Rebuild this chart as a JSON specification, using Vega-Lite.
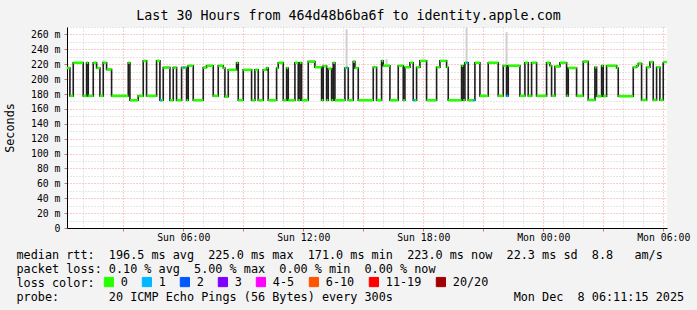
{
  "$schema": "https://vega.github.io/schema/vega-lite/v6.json",
  "width": 600,
  "height": 201,
  "autosize": {"type": "none"},
  "padding": {"left": 67, "top": 27, "right": 30, "bottom": 82},
  "background": "#f3f3f3",
  "config": {"view": {"fill": "#ffffff", "stroke": null}, "font": "DejaVu Sans Mono"},
  "title": {"text": "Last 30 Hours from 464d48b6ba6f to identity.apple.com", "font": "DejaVu Sans Mono", "fontSize": 13.3, "fontWeight": "normal", "color": "#000000", "anchor": "middle", "dx": -18.5, "dy": 15, "offset": 4, "baseline": "alphabetic"},
  "datasets": {
    "median": [
      {"start": "2025-12-07T00:11Z", "end": "2025-12-07T00:20Z", "rtt": 215, "loss": "0"},
      {"start": "2025-12-07T00:20Z", "end": "2025-12-07T00:30Z", "rtt": 177.5, "loss": "0"},
      {"start": "2025-12-07T00:30Z", "end": "2025-12-07T01:00Z", "rtt": 222, "loss": "0"},
      {"start": "2025-12-07T01:00Z", "end": "2025-12-07T01:10Z", "rtt": 177.5, "loss": "0"},
      {"start": "2025-12-07T01:10Z", "end": "2025-12-07T01:15Z", "rtt": 222, "loss": "0"},
      {"start": "2025-12-07T01:15Z", "end": "2025-12-07T01:30Z", "rtt": 177.5, "loss": "0"},
      {"start": "2025-12-07T01:30Z", "end": "2025-12-07T01:40Z", "rtt": 222, "loss": "0"},
      {"start": "2025-12-07T01:40Z", "end": "2025-12-07T01:50Z", "rtt": 215, "loss": "0"},
      {"start": "2025-12-07T01:50Z", "end": "2025-12-07T02:00Z", "rtt": 177.5, "loss": "0"},
      {"start": "2025-12-07T02:00Z", "end": "2025-12-07T02:10Z", "rtt": 222, "loss": "0"},
      {"start": "2025-12-07T02:10Z", "end": "2025-12-07T02:25Z", "rtt": 213, "loss": "0"},
      {"start": "2025-12-07T02:25Z", "end": "2025-12-07T03:15Z", "rtt": 177.5, "loss": "0"},
      {"start": "2025-12-07T03:15Z", "end": "2025-12-07T03:20Z", "rtt": 222, "loss": "0"},
      {"start": "2025-12-07T03:20Z", "end": "2025-12-07T03:45Z", "rtt": 171.6, "loss": "0"},
      {"start": "2025-12-07T03:45Z", "end": "2025-12-07T04:00Z", "rtt": 177.5, "loss": "0"},
      {"start": "2025-12-07T04:00Z", "end": "2025-12-07T04:10Z", "rtt": 224.5, "loss": "0"},
      {"start": "2025-12-07T04:10Z", "end": "2025-12-07T04:40Z", "rtt": 177.5, "loss": "0"},
      {"start": "2025-12-07T04:40Z", "end": "2025-12-07T04:50Z", "rtt": 224.5, "loss": "0"},
      {"start": "2025-12-07T04:50Z", "end": "2025-12-07T04:55Z", "rtt": 171.6, "loss": "1"},
      {"start": "2025-12-07T04:55Z", "end": "2025-12-07T05:00Z", "rtt": 171.6, "loss": "0"},
      {"start": "2025-12-07T05:00Z", "end": "2025-12-07T05:20Z", "rtt": 215.5, "loss": "0"},
      {"start": "2025-12-07T05:20Z", "end": "2025-12-07T05:30Z", "rtt": 171.6, "loss": "0"},
      {"start": "2025-12-07T05:30Z", "end": "2025-12-07T05:40Z", "rtt": 215.5, "loss": "0"},
      {"start": "2025-12-07T05:40Z", "end": "2025-12-07T05:55Z", "rtt": 171.6, "loss": "0"},
      {"start": "2025-12-07T05:55Z", "end": "2025-12-07T06:00Z", "rtt": 215.5, "loss": "0"},
      {"start": "2025-12-07T06:00Z", "end": "2025-12-07T06:05Z", "rtt": 215.5, "loss": "1"},
      {"start": "2025-12-07T06:05Z", "end": "2025-12-07T06:10Z", "rtt": 215.5, "loss": "0"},
      {"start": "2025-12-07T06:10Z", "end": "2025-12-07T06:15Z", "rtt": 171.6, "loss": "0"},
      {"start": "2025-12-07T06:15Z", "end": "2025-12-07T06:30Z", "rtt": 218, "loss": "0"},
      {"start": "2025-12-07T06:30Z", "end": "2025-12-07T07:00Z", "rtt": 171.6, "loss": "0"},
      {"start": "2025-12-07T07:00Z", "end": "2025-12-07T07:10Z", "rtt": 215.5, "loss": "0"},
      {"start": "2025-12-07T07:10Z", "end": "2025-12-07T07:30Z", "rtt": 218, "loss": "0"},
      {"start": "2025-12-07T07:30Z", "end": "2025-12-07T07:45Z", "rtt": 177.5, "loss": "0"},
      {"start": "2025-12-07T07:45Z", "end": "2025-12-07T08:00Z", "rtt": 218, "loss": "0"},
      {"start": "2025-12-07T08:00Z", "end": "2025-12-07T08:05Z", "rtt": 215, "loss": "0"},
      {"start": "2025-12-07T08:05Z", "end": "2025-12-07T08:15Z", "rtt": 176.5, "loss": "0"},
      {"start": "2025-12-07T08:15Z", "end": "2025-12-07T08:40Z", "rtt": 212.5, "loss": "0"},
      {"start": "2025-12-07T08:40Z", "end": "2025-12-07T08:45Z", "rtt": 222, "loss": "0"},
      {"start": "2025-12-07T08:45Z", "end": "2025-12-07T09:00Z", "rtt": 171.6, "loss": "0"},
      {"start": "2025-12-07T09:00Z", "end": "2025-12-07T09:25Z", "rtt": 212.5, "loss": "0"},
      {"start": "2025-12-07T09:25Z", "end": "2025-12-07T09:35Z", "rtt": 171.6, "loss": "0"},
      {"start": "2025-12-07T09:35Z", "end": "2025-12-07T09:45Z", "rtt": 212.5, "loss": "0"},
      {"start": "2025-12-07T09:45Z", "end": "2025-12-07T10:00Z", "rtt": 171.6, "loss": "0"},
      {"start": "2025-12-07T10:00Z", "end": "2025-12-07T10:10Z", "rtt": 212.5, "loss": "0"},
      {"start": "2025-12-07T10:10Z", "end": "2025-12-07T10:15Z", "rtt": 215, "loss": "0"},
      {"start": "2025-12-07T10:15Z", "end": "2025-12-07T10:40Z", "rtt": 171.6, "loss": "0"},
      {"start": "2025-12-07T10:40Z", "end": "2025-12-07T10:45Z", "rtt": 215, "loss": "0"},
      {"start": "2025-12-07T10:45Z", "end": "2025-12-07T11:00Z", "rtt": 222, "loss": "0"},
      {"start": "2025-12-07T11:00Z", "end": "2025-12-07T11:10Z", "rtt": 171.6, "loss": "0"},
      {"start": "2025-12-07T11:10Z", "end": "2025-12-07T11:15Z", "rtt": 215, "loss": "0"},
      {"start": "2025-12-07T11:15Z", "end": "2025-12-07T11:35Z", "rtt": 171.6, "loss": "0"},
      {"start": "2025-12-07T11:35Z", "end": "2025-12-07T11:45Z", "rtt": 222, "loss": "0"},
      {"start": "2025-12-07T11:45Z", "end": "2025-12-07T11:50Z", "rtt": 171.6, "loss": "0"},
      {"start": "2025-12-07T11:50Z", "end": "2025-12-07T11:55Z", "rtt": 222, "loss": "0"},
      {"start": "2025-12-07T11:55Z", "end": "2025-12-07T12:15Z", "rtt": 171.6, "loss": "0"},
      {"start": "2025-12-07T12:15Z", "end": "2025-12-07T12:35Z", "rtt": 223.5, "loss": "0"},
      {"start": "2025-12-07T12:35Z", "end": "2025-12-07T12:55Z", "rtt": 216, "loss": "0"},
      {"start": "2025-12-07T12:55Z", "end": "2025-12-07T13:00Z", "rtt": 171.6, "loss": "0"},
      {"start": "2025-12-07T13:00Z", "end": "2025-12-07T13:10Z", "rtt": 217.5, "loss": "0"},
      {"start": "2025-12-07T13:10Z", "end": "2025-12-07T13:15Z", "rtt": 171.6, "loss": "0"},
      {"start": "2025-12-07T13:15Z", "end": "2025-12-07T13:25Z", "rtt": 214, "loss": "0"},
      {"start": "2025-12-07T13:25Z", "end": "2025-12-07T13:30Z", "rtt": 171.6, "loss": "0"},
      {"start": "2025-12-07T13:30Z", "end": "2025-12-07T13:35Z", "rtt": 222, "loss": "0"},
      {"start": "2025-12-07T13:35Z", "end": "2025-12-07T14:05Z", "rtt": 171.6, "loss": "0"},
      {"start": "2025-12-07T14:05Z", "end": "2025-12-07T14:10Z", "rtt": 215, "loss": "0"},
      {"start": "2025-12-07T14:10Z", "end": "2025-12-07T14:15Z", "rtt": 215, "loss": "1"},
      {"start": "2025-12-07T14:15Z", "end": "2025-12-07T14:30Z", "rtt": 171.6, "loss": "0"},
      {"start": "2025-12-07T14:30Z", "end": "2025-12-07T14:35Z", "rtt": 223.5, "loss": "0"},
      {"start": "2025-12-07T14:35Z", "end": "2025-12-07T14:45Z", "rtt": 215, "loss": "0"},
      {"start": "2025-12-07T14:45Z", "end": "2025-12-07T15:30Z", "rtt": 171.6, "loss": "0"},
      {"start": "2025-12-07T15:30Z", "end": "2025-12-07T15:40Z", "rtt": 216, "loss": "0"},
      {"start": "2025-12-07T15:40Z", "end": "2025-12-07T15:55Z", "rtt": 171.6, "loss": "0"},
      {"start": "2025-12-07T15:55Z", "end": "2025-12-07T16:00Z", "rtt": 224.5, "loss": "0"},
      {"start": "2025-12-07T16:00Z", "end": "2025-12-07T16:20Z", "rtt": 218, "loss": "0"},
      {"start": "2025-12-07T16:20Z", "end": "2025-12-07T16:45Z", "rtt": 171.6, "loss": "0"},
      {"start": "2025-12-07T16:45Z", "end": "2025-12-07T17:00Z", "rtt": 218, "loss": "0"},
      {"start": "2025-12-07T17:00Z", "end": "2025-12-07T17:05Z", "rtt": 171.6, "loss": "0"},
      {"start": "2025-12-07T17:05Z", "end": "2025-12-07T17:20Z", "rtt": 216, "loss": "0"},
      {"start": "2025-12-07T17:20Z", "end": "2025-12-07T17:30Z", "rtt": 222, "loss": "0"},
      {"start": "2025-12-07T17:30Z", "end": "2025-12-07T17:35Z", "rtt": 171.6, "loss": "1"},
      {"start": "2025-12-07T17:35Z", "end": "2025-12-07T17:40Z", "rtt": 171.6, "loss": "0"},
      {"start": "2025-12-07T17:40Z", "end": "2025-12-07T17:50Z", "rtt": 216, "loss": "0"},
      {"start": "2025-12-07T17:50Z", "end": "2025-12-07T18:10Z", "rtt": 224.5, "loss": "0"},
      {"start": "2025-12-07T18:10Z", "end": "2025-12-07T18:40Z", "rtt": 171.6, "loss": "0"},
      {"start": "2025-12-07T18:40Z", "end": "2025-12-07T18:50Z", "rtt": 216, "loss": "0"},
      {"start": "2025-12-07T18:50Z", "end": "2025-12-07T19:10Z", "rtt": 224.5, "loss": "0"},
      {"start": "2025-12-07T19:10Z", "end": "2025-12-07T19:15Z", "rtt": 216, "loss": "0"},
      {"start": "2025-12-07T19:15Z", "end": "2025-12-07T19:55Z", "rtt": 171.6, "loss": "0"},
      {"start": "2025-12-07T19:55Z", "end": "2025-12-07T20:00Z", "rtt": 218, "loss": "0"},
      {"start": "2025-12-07T20:00Z", "end": "2025-12-07T20:05Z", "rtt": 171.6, "loss": "0"},
      {"start": "2025-12-07T20:05Z", "end": "2025-12-07T20:10Z", "rtt": 222, "loss": "0"},
      {"start": "2025-12-07T20:10Z", "end": "2025-12-07T20:15Z", "rtt": 222, "loss": "1"},
      {"start": "2025-12-07T20:15Z", "end": "2025-12-07T20:30Z", "rtt": 171.6, "loss": "0"},
      {"start": "2025-12-07T20:30Z", "end": "2025-12-07T20:35Z", "rtt": 171.6, "loss": "1"},
      {"start": "2025-12-07T20:35Z", "end": "2025-12-07T20:50Z", "rtt": 222, "loss": "0"},
      {"start": "2025-12-07T20:50Z", "end": "2025-12-07T21:15Z", "rtt": 177.5, "loss": "0"},
      {"start": "2025-12-07T21:15Z", "end": "2025-12-07T21:45Z", "rtt": 222, "loss": "0"},
      {"start": "2025-12-07T21:45Z", "end": "2025-12-07T22:00Z", "rtt": 177.5, "loss": "0"},
      {"start": "2025-12-07T22:00Z", "end": "2025-12-07T22:10Z", "rtt": 218, "loss": "0"},
      {"start": "2025-12-07T22:10Z", "end": "2025-12-07T22:15Z", "rtt": 177.5, "loss": "1"},
      {"start": "2025-12-07T22:15Z", "end": "2025-12-07T22:50Z", "rtt": 218, "loss": "0"},
      {"start": "2025-12-07T22:50Z", "end": "2025-12-07T23:05Z", "rtt": 177.5, "loss": "0"},
      {"start": "2025-12-07T23:05Z", "end": "2025-12-07T23:15Z", "rtt": 222, "loss": "0"},
      {"start": "2025-12-07T23:15Z", "end": "2025-12-07T23:25Z", "rtt": 177.5, "loss": "0"},
      {"start": "2025-12-07T23:25Z", "end": "2025-12-07T23:40Z", "rtt": 222, "loss": "0"},
      {"start": "2025-12-07T23:40Z", "end": "2025-12-08T00:10Z", "rtt": 177.5, "loss": "0"},
      {"start": "2025-12-08T00:10Z", "end": "2025-12-08T00:20Z", "rtt": 222, "loss": "0"},
      {"start": "2025-12-08T00:20Z", "end": "2025-12-08T00:25Z", "rtt": 218, "loss": "0"},
      {"start": "2025-12-08T00:25Z", "end": "2025-12-08T00:35Z", "rtt": 177.5, "loss": "0"},
      {"start": "2025-12-08T00:35Z", "end": "2025-12-08T00:50Z", "rtt": 217, "loss": "0"},
      {"start": "2025-12-08T00:50Z", "end": "2025-12-08T01:10Z", "rtt": 222, "loss": "0"},
      {"start": "2025-12-08T01:10Z", "end": "2025-12-08T01:15Z", "rtt": 177.5, "loss": "0"},
      {"start": "2025-12-08T01:15Z", "end": "2025-12-08T01:40Z", "rtt": 215, "loss": "0"},
      {"start": "2025-12-08T01:40Z", "end": "2025-12-08T02:00Z", "rtt": 177.5, "loss": "0"},
      {"start": "2025-12-08T02:00Z", "end": "2025-12-08T02:15Z", "rtt": 223.5, "loss": "0"},
      {"start": "2025-12-08T02:15Z", "end": "2025-12-08T02:35Z", "rtt": 172, "loss": "0"},
      {"start": "2025-12-08T02:35Z", "end": "2025-12-08T02:40Z", "rtt": 216, "loss": "0"},
      {"start": "2025-12-08T02:40Z", "end": "2025-12-08T02:55Z", "rtt": 177, "loss": "0"},
      {"start": "2025-12-08T02:55Z", "end": "2025-12-08T03:00Z", "rtt": 218, "loss": "0"},
      {"start": "2025-12-08T03:00Z", "end": "2025-12-08T03:10Z", "rtt": 177, "loss": "0"},
      {"start": "2025-12-08T03:10Z", "end": "2025-12-08T03:40Z", "rtt": 218, "loss": "0"},
      {"start": "2025-12-08T03:40Z", "end": "2025-12-08T03:45Z", "rtt": 215, "loss": "0"},
      {"start": "2025-12-08T03:45Z", "end": "2025-12-08T04:30Z", "rtt": 177, "loss": "0"},
      {"start": "2025-12-08T04:30Z", "end": "2025-12-08T04:40Z", "rtt": 216, "loss": "0"},
      {"start": "2025-12-08T04:40Z", "end": "2025-12-08T04:45Z", "rtt": 218, "loss": "0"},
      {"start": "2025-12-08T04:45Z", "end": "2025-12-08T04:55Z", "rtt": 221, "loss": "0"},
      {"start": "2025-12-08T04:55Z", "end": "2025-12-08T05:10Z", "rtt": 172, "loss": "0"},
      {"start": "2025-12-08T05:10Z", "end": "2025-12-08T05:20Z", "rtt": 216, "loss": "0"},
      {"start": "2025-12-08T05:20Z", "end": "2025-12-08T05:30Z", "rtt": 223, "loss": "0"},
      {"start": "2025-12-08T05:30Z", "end": "2025-12-08T05:40Z", "rtt": 172, "loss": "0"},
      {"start": "2025-12-08T05:40Z", "end": "2025-12-08T05:50Z", "rtt": 216, "loss": "0"},
      {"start": "2025-12-08T05:50Z", "end": "2025-12-08T06:00Z", "rtt": 172, "loss": "0"},
      {"start": "2025-12-08T06:00Z", "end": "2025-12-08T06:11Z", "rtt": 223, "loss": "0"}
    ],
    "smoke": [
      {"start": "2025-12-07T02:00Z", "rtt": 218, "top": 225},
      {"start": "2025-12-07T04:50Z", "rtt": 172, "top": 225},
      {"start": "2025-12-07T14:10Z", "rtt": 215, "top": 267},
      {"start": "2025-12-07T16:10Z", "rtt": 218, "top": 227},
      {"start": "2025-12-07T20:10Z", "rtt": 222, "top": 269},
      {"start": "2025-12-07T22:10Z", "rtt": 177, "top": 263}
    ]
  },
  "encoding": {
    "x": {
      "field": "start", "type": "temporal",
      "scale": {"type": "utc", "domain": [{"year": 2025, "month": 12, "date": 7, "hours": 0, "minutes": 11, "seconds": 15, "utc": true}, {"year": 2025, "month": 12, "date": 8, "hours": 6, "minutes": 11, "seconds": 15, "utc": true}]},
      "axis": {
        "title": [
          "median rtt:\u00a0\u00a0196.5 ms avg\u00a0\u00a0225.0 ms max\u00a0\u00a0171.0 ms min\u00a0\u00a0223.0 ms now\u00a0\u00a022.3 ms sd\u00a0\u00a08.8\u00a0\u00a0\u00a0am/s",
          "packet loss: 0.10 % avg\u00a0\u00a05.00 % max\u00a0\u00a00.00 % min\u00a0\u00a00.00 % now",
          "loss color:",
          "probe:\u00a0\u00a0\u00a0\u00a0\u00a0\u00a0\u00a020 ICMP Echo Pings (56 Bytes) every 300s\u00a0\u00a0\u00a0\u00a0\u00a0\u00a0\u00a0\u00a0\u00a0\u00a0\u00a0\u00a0\u00a0\u00a0\u00a0\u00a0\u00a0Mon Dec\u00a0\u00a08 06:11:15 2025"
        ],
        "titleFont": "DejaVu Sans Mono", "titleFontSize": 11.8, "titleFontWeight": "normal", "titleColor": "#000000",
        "titleAlign": "left", "titleAnchor": "start", "titleBaseline": "alphabetic", "titleLineHeight": 14,
        "titleX": -51, "titleY": 30,
        "tickCount": 30,
        "labelExpr": "utchours(datum.value) % 6 === 0 ? utcFormat(datum.value, '%a %H:%M') : ''",
        "labelFont": "DejaVu Sans Mono", "labelFontSize": 9.8, "labelColor": "#000000", "labelPadding": 1,
        "labelOverlap": false, "labelFlush": false, "labelBound": false,
        "tickSize": 3, "tickColor": "#d07070",
        "tickOpacity": {"condition": {"test": "utchours(datum.value) % 3 === 0", "value": 1}, "value": 0},
        "domainColor": "#000000", "domainWidth": 1,
        "grid": true, "gridDash": [1, 2], "gridWidth": 1, "gridOpacity": 1,
        "gridColor": {"condition": {"test": "utchours(datum.value) % 3 === 0", "value": "#f09a9a"}, "value": "#cccccc"}
      }
    },
    "y": {
      "field": "rtt", "type": "quantitative",
      "scale": {"domain": [0, 270], "nice": false, "zero": true},
      "axis": {
        "orient": "left",
        "values": [0, 10, 20, 30, 40, 50, 60, 70, 80, 90, 100, 110, 120, 130, 140, 150, 160, 170, 180, 190, 200, 210, 220, 230, 240, 250, 260, 270],
        "labelExpr": "datum.value % 20 === 0 ? (datum.value === 0 ? '0\u00a0\u00a0' : datum.value + '\u00a0m') : ''",
        "labelFont": "DejaVu Sans Mono", "labelFontSize": 9.8, "labelColor": "#000000", "labelPadding": 4,
        "labelOverlap": false, "labelFlush": false, "labelBound": false,
        "tickSize": 3, "tickColor": "#d07070",
        "tickOpacity": {"condition": {"test": "datum.value % 20 === 0", "value": 1}, "value": 0},
        "domainColor": "#000000", "domainWidth": 1,
        "grid": true, "gridDash": [1, 2], "gridWidth": 1, "gridOpacity": 1,
        "gridColor": {"condition": {"test": "datum.value % 20 === 0", "value": "#f09a9a"}, "value": "#cccccc"},
        "title": "Seconds", "titleFont": "DejaVu Sans Mono", "titleFontSize": 11.8, "titleFontWeight": "normal", "titleColor": "#000000", "titlePadding": 15
      }
    }
  },
  "layer": [
    {
      "data": {"name": "smoke"},
      "mark": {"type": "rule", "color": "#cfcfcf", "strokeWidth": 2},
      "encoding": {"y2": {"field": "top"}}
    },
    {
      "data": {"name": "median"},
      "mark": {"type": "line", "interpolate": "step-after", "color": "#1e1e1e", "strokeWidth": 1.6},
      "encoding": {}
    },
    {
      "data": {"name": "median"},
      "mark": {"type": "rule", "strokeWidth": 2.6, "strokeCap": "butt"},
      "encoding": {
        "x2": {"field": "end"},
        "color": {
          "field": "loss", "type": "nominal",
          "scale": {"domain": ["0", "1", "2", "3", "4-5", "6-10", "11-19", "20/20"], "range": ["#26ff00", "#00b8ff", "#0059ff", "#7e00ff", "#ff00ff", "#ff5500", "#ff0000", "#a10000"]},
          "legend": {
            "title": null, "orient": "none", "legendX": 36, "legendY": 249, "direction": "horizontal",
            "labelFont": "DejaVu Sans Mono", "labelFontSize": 11.8, "labelColor": "#000000", "labelOffset": 6,
            "columnPadding": 12, "padding": 0,
            "symbolType": "square", "symbolSize": 85, "symbolStrokeColor": "#000000", "symbolStrokeWidth": 1,
            "encode": {"symbols": {"update": {"fill": {"scale": "color", "field": "value"}, "stroke": {"value": "#000000"}, "strokeWidth": {"value": 1}, "opacity": {"value": 1}}}}
          }
        }
      }
    },
    {
      "data": {"values": [{}]},
      "mark": {"type": "text", "text": "RRDTOOL / TOBI OETIKER", "angle": 90, "align": "left", "baseline": "middle", "font": "DejaVu Sans Mono", "fontSize": 8.3, "color": "#9a9a9a", "dx": -22, "dy": -20.5},
      "encoding": {
        "x": {
          "datum": 1765174275000, "type": "temporal",
          "scale": {"type": "utc", "domain": [{"year": 2025, "month": 12, "date": 7, "hours": 0, "minutes": 11, "seconds": 15, "utc": true}, {"year": 2025, "month": 12, "date": 8, "hours": 6, "minutes": 11, "seconds": 15, "utc": true}]},
          "axis": {
            "title": [
              "median rtt:\u00a0\u00a0196.5 ms avg\u00a0\u00a0225.0 ms max\u00a0\u00a0171.0 ms min\u00a0\u00a0223.0 ms now\u00a0\u00a022.3 ms sd\u00a0\u00a08.8\u00a0\u00a0\u00a0am/s",
              "packet loss: 0.10 % avg\u00a0\u00a05.00 % max\u00a0\u00a00.00 % min\u00a0\u00a00.00 % now",
              "loss color:",
              "probe:\u00a0\u00a0\u00a0\u00a0\u00a0\u00a0\u00a020 ICMP Echo Pings (56 Bytes) every 300s\u00a0\u00a0\u00a0\u00a0\u00a0\u00a0\u00a0\u00a0\u00a0\u00a0\u00a0\u00a0\u00a0\u00a0\u00a0\u00a0\u00a0Mon Dec\u00a0\u00a08 06:11:15 2025"
            ],
            "titleFont": "DejaVu Sans Mono", "titleFontSize": 11.8, "titleFontWeight": "normal", "titleColor": "#000000",
            "titleAlign": "left", "titleAnchor": "start", "titleBaseline": "alphabetic", "titleLineHeight": 14,
            "titleX": -51, "titleY": 30,
            "tickCount": 30,
            "labelExpr": "utchours(datum.value) % 6 === 0 ? utcFormat(datum.value, '%a %H:%M') : ''",
            "labelFont": "DejaVu Sans Mono", "labelFontSize": 9.8, "labelColor": "#000000", "labelPadding": 1,
            "labelOverlap": false, "labelFlush": false, "labelBound": false,
            "tickSize": 3, "tickColor": "#d07070",
            "tickOpacity": {"condition": {"test": "utchours(datum.value) % 3 === 0", "value": 1}, "value": 0},
            "domainColor": "#000000", "domainWidth": 1,
            "grid": true, "gridDash": [1, 2], "gridWidth": 1, "gridOpacity": 1,
            "gridColor": {"condition": {"test": "utchours(datum.value) % 3 === 0", "value": "#f09a9a"}, "value": "#cccccc"}
          }
        },
        "y": {
          "datum": 270, "type": "quantitative",
          "scale": {"domain": [0, 270], "nice": false, "zero": true},
          "axis": {
            "orient": "left",
            "values": [0, 10, 20, 30, 40, 50, 60, 70, 80, 90, 100, 110, 120, 130, 140, 150, 160, 170, 180, 190, 200, 210, 220, 230, 240, 250, 260, 270],
            "labelExpr": "datum.value % 20 === 0 ? (datum.value === 0 ? '0\u00a0\u00a0' : datum.value + '\u00a0m') : ''",
            "labelFont": "DejaVu Sans Mono", "labelFontSize": 9.8, "labelColor": "#000000", "labelPadding": 4,
            "labelOverlap": false, "labelFlush": false, "labelBound": false,
            "tickSize": 3, "tickColor": "#d07070",
            "tickOpacity": {"condition": {"test": "datum.value % 20 === 0", "value": 1}, "value": 0},
            "domainColor": "#000000", "domainWidth": 1,
            "grid": true, "gridDash": [1, 2], "gridWidth": 1, "gridOpacity": 1,
            "gridColor": {"condition": {"test": "datum.value % 20 === 0", "value": "#f09a9a"}, "value": "#cccccc"},
            "title": "Seconds", "titleFont": "DejaVu Sans Mono", "titleFontSize": 11.8, "titleFontWeight": "normal", "titleColor": "#000000", "titlePadding": 15
          }
        }
      }
    }
  ]
}
